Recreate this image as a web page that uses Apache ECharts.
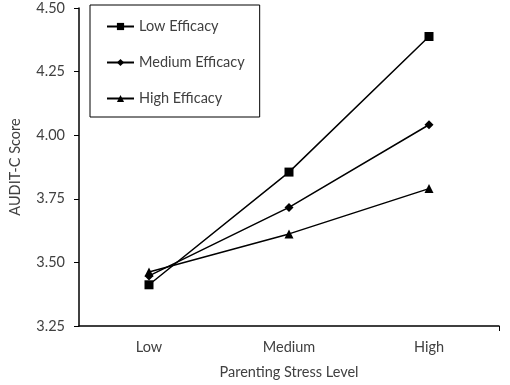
<!DOCTYPE html>
<html>
<head>
<meta charset="utf-8">
<script src="https://cdn.jsdelivr.net/npm/echarts@6/dist/echarts.min.js"></script>
<style>
  html, body { margin: 0; padding: 0; background: #fff; }
  #chart { width: 510px; height: 385px; }
</style>
</head>
<body>
<div id="chart"></div>
<script>
const categories = ['Low', 'Medium', 'High']
const lowEfficacy = [3.412, 3.855, 4.388]
const mediumEfficacy = [3.447, 3.716, 4.041]
const highEfficacy = [3.462, 3.612, 3.790]
const yTicks = [3.25, 3.5, 3.75, 4.0, 4.25, 4.5]

const font = 'Lato, "Noto Sans", sans-serif'
const textColor = '#404040'

const chart = echarts.init(document.getElementById('chart'))

function line(name, data, symbol, size) {
  return {
    name: name,
    type: 'line',
    data: data,
    symbol: symbol,
    symbolSize: size,
    lineStyle: { color: '#000', width: 1.5 },
    itemStyle: { color: '#000' },
    emphasis: { disabled: true }
  }
}

chart.setOption({
  animation: false,
  textStyle: { fontFamily: font },
  grid: { left: 78, right: 11, top: 8, bottom: 57 },
  legend: {
    orient: 'vertical',
    left: 90,
    top: 5,
    padding: [14, 15, 11, 16],
    itemGap: 21,
    itemWidth: 27,
    itemHeight: 9,
    borderColor: '#000',
    borderWidth: 1,
    textStyle: { fontSize: 14.5, lineHeight: 14, color: textColor, fontFamily: font },
    data: ['Low Efficacy', 'Medium Efficacy', 'High Efficacy']
  },
  xAxis: [
    {
      type: 'category',
      data: categories,
      name: 'Parenting Stress Level',
      nameLocation: 'middle',
      nameGap: 39,
      nameTextStyle: { fontSize: 14.5, color: textColor },
      axisLine: { lineStyle: { color: '#000', width: 1.5 } },
      axisTick: { alignWithLabel: true, length: 5, lineStyle: { color: '#000' } },
      axisLabel: { fontSize: 14.5, color: textColor, margin: 14 }
    },
    {
      type: 'value',
      position: 'bottom',
      min: 0,
      max: 1,
      axisLine: { show: false },
      axisLabel: { show: false },
      splitLine: { show: false },
      axisTick: { show: true, length: 5, customValues: [1], lineStyle: { color: '#000' } }
    }
  ],
  yAxis: {
    type: 'value',
    min: 3.25,
    max: 4.5,
    interval: 0.25,
    name: 'AUDIT-C Score',
    nameLocation: 'middle',
    nameGap: 56,
    nameTextStyle: { fontSize: 14.5, color: textColor },
    axisLine: { show: true, lineStyle: { color: '#000', width: 1.5 } },
    axisTick: { show: true, length: 5, lineStyle: { color: '#000' } },
    splitLine: { show: false },
    axisLabel: {
      fontSize: 14.5,
      color: textColor,
      margin: 14,
      formatter: function (v) { return v.toFixed(2) }
    }
  },
  series: [
    line('Low Efficacy', lowEfficacy, 'rect', 9),
    line('Medium Efficacy', mediumEfficacy, 'diamond', 9),
    line('High Efficacy', highEfficacy, 'triangle', 9)
  ]
})
</script>
</body>
</html>
